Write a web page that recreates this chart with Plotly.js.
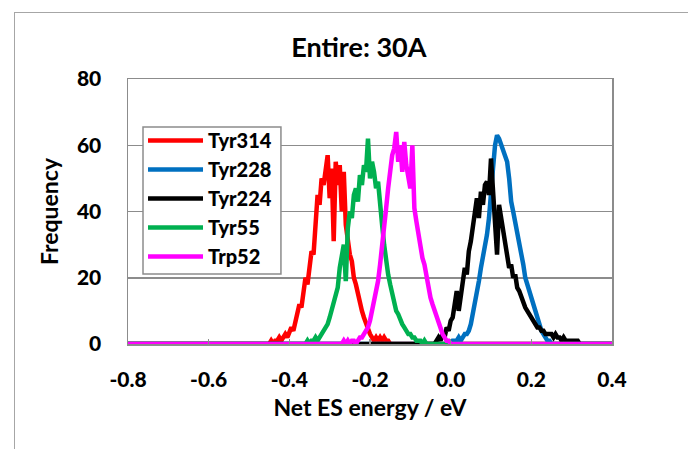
<!DOCTYPE html>
<html>
<head>
<meta charset="utf-8">
<script src="https://cdn.plot.ly/plotly-3.0.1.min.js"></script>
<style>
html,body{margin:0;padding:0;background:#fff;overflow:hidden;}
#wrap{position:relative;width:688px;height:449px;}
#frame{position:absolute;left:14px;top:12px;width:800px;height:600px;border:1.5px solid #a6a6a6;pointer-events:none;}
#chart{position:absolute;left:0;top:0;width:688px;height:449px;}
</style>
</head>
<body>
<div id="wrap"><div id="chart"></div><div id="frame"></div></div>
<script>
// Histogram bin width (eV) and first bin of each series
const binWidth = 0.005;
const xRange = [-0.8, 0.4];
const yTicks = [0, 20, 40, 60, 80];
const xTicks = [-0.8, -0.6, -0.4, -0.2, 0.0, 0.2, 0.4];

const seriesNames = ["Tyr314", "Tyr228", "Tyr224", "Tyr55", "Trp52"];
const seriesColors = ["#ff0000", "#0070c0", "#000000", "#00b050", "#ff00ff"];

const tyr314Start = -0.450;
const tyr314 = [0,1,0,1,1,2,1,2,3,2,4,5,4,7,9,12,11,16,20,18,24,28,27,38,45,42,50,48,52,57,44,53,31,55,48,54,40,52,36,30,27,25,20,18,15,13,10,8,6,4,3,2,1,2,1,2,1,2,1,1,0];

const tyr228Start = 0.000;
const tyr228 = [0,1,1,1,2,1,2,3,3,4,6,9,12,16,19,23,26,30,33,38,44,53,60,63,62,60,59,56,55,50,43,40,37,34,30,27,24,20,18,15,13,11,9,7,5,4,3,2,1,1,0];

const tyr224Start = -0.040;
const tyr224 = [0,1,2,1,3,2,5,4,7,8,12,16,10,14,19,23,21,28,31,36,40,44,38,46,42,48,49,45,56,47,40,27,42,38,33,29,27,23,24,20,21,17,16,14,12,11,10,9,8,7,6,5,5,4,4,3,3,3,3,2,3,2,2,1,2,1,1,1,1,1,1,1,0];

const tyr55Start = -0.360;
const tyr55 = [0,1,0,1,1,2,1,2,3,4,5,6,8,10,12,14,17,23,26,30,19,35,40,38,45,47,43,51,48,54,52,62,50,55,52,47,49,41,36,30,25,21,18,15,13,10,9,7,6,5,4,3,3,2,2,1,1,1,0,1,0];

const trp52Start = -0.270;
const trp52 = [0,1,0,1,0,1,1,0,1,2,2,3,4,5,7,10,13,15,19,24,29,35,41,47,53,57,59,64,55,60,52,61,54,50,47,60,41,37,33,30,26,24,20,17,14,12,10,8,6,5,3,2,1,1,0];

const starts = [tyr314Start, tyr228Start, tyr224Start, tyr55Start, trp52Start];
const counts = [tyr314, tyr228, tyr224, tyr55, trp52];

const traces = seriesNames.map((name, k) => {
  const xs = [xRange[0]];
  const ys = [0];
  counts[k].forEach((c, i) => {
    xs.push(+(starts[k] + i * binWidth).toFixed(4));
    ys.push(c);
  });
  xs.push(xRange[1]);
  ys.push(0);
  return {
    type: "scatter", mode: "lines", name: name,
    x: xs, y: ys,
    line: {color: seriesColors[k], width: 4.5},
    hoverinfo: "skip"
  };
});

const fontFam = "Lato, 'Liberation Sans', sans-serif";
const gray = "#8c8c8c";

const layout = {
  width: 688, height: 449,
  margin: {l: 128, r: 76, t: 79, b: 105},
  paper_bgcolor: "#ffffff", plot_bgcolor: "#ffffff",
  showlegend: true,
  font: {family: fontFam, color: "#000", size: 20, weight: 900},
  title: {
    text: "<b>Entire: 30A</b>",
    font: {family: fontFam, size: 27, color: "#000", weight: 900},
    xref: "paper", x: 0.477, xanchor: "center",
    yref: "container", y: 0.893, yanchor: "middle"
  },
  xaxis: {
    range: xRange, tickvals: xTicks,
    ticktext: xTicks.map(v => v.toFixed(1)),
    ticks: "inside", ticklen: 5, tickcolor: gray, tickwidth: 1.5,
    showgrid: false, zeroline: false,
    showline: true, mirror: true, linecolor: gray, linewidth: 1.5,
    tickfont: {family: fontFam, size: 21, color: "#000", weight: 900},
    ticklabelstandoff: 16,
    title: {text: "<b>Net ES energy / eV</b>", font: {family: fontFam, size: 23, color: "#000", weight: 900}, standoff: 10}
  },
  yaxis: {
    range: [0, 80], tickvals: yTicks,
    ticks: "", showgrid: true, gridcolor: gray, gridwidth: 1.5,
    zeroline: false,
    showline: true, mirror: true, linecolor: gray, linewidth: 1.5,
    tickfont: {family: fontFam, size: 21, color: "#000", weight: 900},
    ticklabelstandoff: 21,
    title: {text: "<b>Frequency</b>", font: {family: fontFam, size: 23, color: "#000", weight: 900}, standoff: 12}
  },
  shapes: [{
    type: "rect", xref: "paper", yref: "paper", layer: "above",
    x0: 0.031, x1: 0.316, y0: 0.264, y1: 0.819,
    fillcolor: "#ffffff", line: {color: gray, width: 1.5}
  }],
  legend: {
    x: 0.031, y: 0.8415, xanchor: "left", yanchor: "top",
    bgcolor: "rgba(0,0,0,0)", borderwidth: 0,
    font: {family: fontFam, size: 20, color: "#000", weight: 900},
    tracegroupgap: 0, itemwidth: 55
  }
};

Plotly.newPlot("chart", traces, layout, {staticPlot: true, displayModeBar: false});
</script>
</body>
</html>
